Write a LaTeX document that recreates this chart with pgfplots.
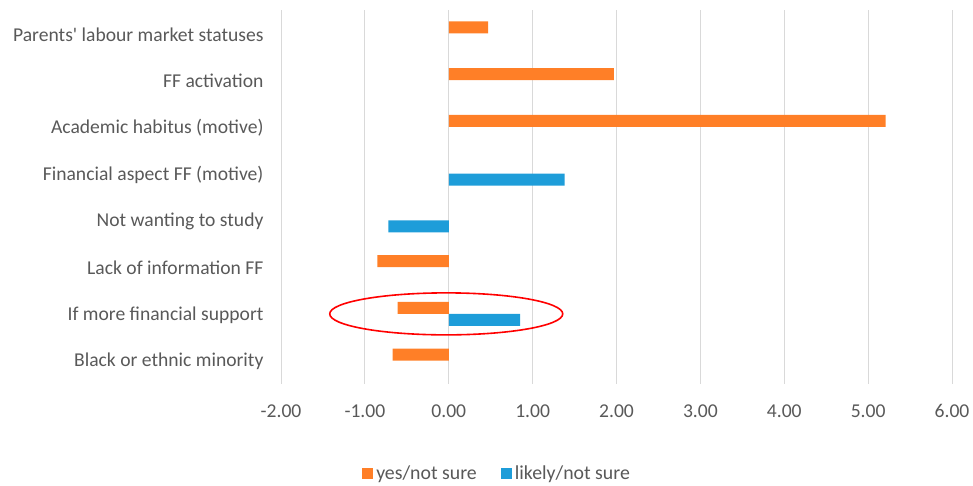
\documentclass[border=0pt]{standalone}
\usepackage{fontspec}
\setmainfont{Carlito}
\usepackage{pgfplots}
\pgfplotsset{compat=1.18}
\definecolor{cOrange}{RGB}{255,127,39}
\definecolor{cBlue}{RGB}{30,157,217}
\definecolor{cGrid}{RGB}{217,217,217}
\definecolor{cText}{RGB}{89,89,89}
\begin{document}
\begin{tikzpicture}[x=1pt,y=1pt]
\useasboundingbox (0,0) rectangle (973,485);
\begin{axis}[
  at={(281pt,101pt)}, anchor=south west,
  scale only axis, width=671pt, height=374pt,
  xmin=-2, xmax=6, ymin=-0.5, ymax=7.5,
  y dir=reverse,
  xtick={-2,-1,0,1,2,3,4,5,6},
  xticklabels={-2.00,-1.00,0.00,1.00,2.00,3.00,4.00,5.00,6.00},
  ytick={0,1,2,3,4,5,6,7},
  yticklabels={Parents\textquotesingle\ labour market statuses,FF activation,Academic habitus (motive),Financial aspect FF (motive),Not wanting to study,Lack of information FF,If more financial support,Black or ethnic minority},
  axis line style={draw=none},
  major tick length=0pt,
  xmajorgrids, grid style={cGrid, line width=1pt},
  ticklabel style={font=\fontsize{19.6}{23}\selectfont, text=cText},
  yticklabel style={anchor=east, xshift=-14pt, yshift=-1pt},
  xticklabel style={yshift=-17pt},
  legend style={at={(0.322,-0.24)}, anchor=center, draw=none, legend columns=2,
     font=\fontsize{19.8}{23}\selectfont, text=cText,
     /tikz/every even column/.append style={column sep=22pt},
     /tikz/every odd column/.append style={column sep=1pt}},
  legend image code/.code={\fill[#1] (0pt,-5.5pt) rectangle (11pt,5.5pt);},
  clip=false,
]
\addplot[xbar, bar width=0.256, bar shift=-0.1283, fill=cOrange, draw=none] coordinates {
  (0.47,0) (1.97,1) (5.21,2) (-0.85,5) (-0.61,6) (-0.67,7)
};
\addlegendentry{yes/not sure}
\addplot[xbar, bar width=0.256, bar shift=0.1283, fill=cBlue, draw=none] coordinates {
  (1.38,3) (-0.72,4) (0.85,6)
};
\addlegendentry{likely/not sure}
\draw[red, line width=1.6pt] (axis cs:-0.03,6) ellipse [x radius=116.5pt, y radius=21pt];
\end{axis}
\end{tikzpicture}
\end{document}
